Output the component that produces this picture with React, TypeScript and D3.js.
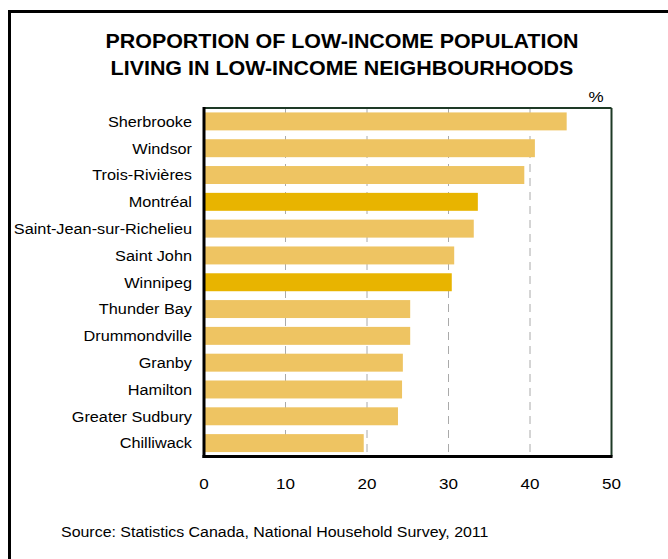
import React from "react";
import * as d3 from "d3";

const categories = [
  "Sherbrooke",
  "Windsor",
  "Trois-Rivières",
  "Montréal",
  "Saint-Jean-sur-Richelieu",
  "Saint John",
  "Winnipeg",
  "Thunder Bay",
  "Drummondville",
  "Granby",
  "Hamilton",
  "Greater Sudbury",
  "Chilliwack",
];
const values = [44.5, 40.6, 39.3, 33.6, 33.1, 30.7, 30.4, 25.3, 25.3, 24.4, 24.3, 23.8, 19.6];
const highlighted = ["Montréal", "Winnipeg"];
const xTicks = [0, 10, 20, 30, 40, 50];
const titleLines = ["PROPORTION OF LOW-INCOME POPULATION", "LIVING IN LOW-INCOME NEIGHBOURHOODS"];
const sourceText = "Source: Statistics Canada, National Household Survey, 2011";

const W = 668;
const H = 559;
const plot = { left: 204, right: 611.5, top: 108, bottom: 456.5 };
const font = "Liberation Sans, Arial, Helvetica, sans-serif";
const SX = 1.1; // horizontal stretch of the reference's text

function T({
  x,
  y,
  anchor = "start",
  size,
  bold = false,
  dy,
  children,
}: {
  x: number;
  y: number;
  anchor?: string;
  size: number;
  bold?: boolean;
  dy?: string;
  children: React.ReactNode;
}) {
  return (
    <text
      transform={`translate(${x},${y}) scale(${SX},1)`}
      textAnchor={anchor}
      fontSize={size}
      fontWeight={bold ? "bold" : "normal"}
      dy={dy}
      fill="#000"
    >
      {children}
    </text>
  );
}

export default function App() {
  const x = d3.scaleLinear().domain([0, 50]).range([plot.left, plot.right]);
  const y = d3
    .scaleBand<string>()
    .domain(categories)
    .range([plot.top, plot.bottom])
    .paddingInner(0.33)
    .paddingOuter(0.165);

  return (
    <svg
      width={W}
      height={H}
      style={{ position: "absolute", left: 0, top: 0, background: "#fff" }}
      fontFamily={font}
    >
      <rect x={0} y={0} width={W} height={H} fill="#fff" />
      {/* outer frame */}
      <rect x={9.5} y={11.5} width={W + 20} height={H + 20} fill="none" stroke="#000" strokeWidth={3} />
      {/* title */}
      {titleLines.map((t, i) => (
        <T key={i} x={342} y={47.5 + i * 27} anchor="middle" size={19.5} bold>
          {t}
        </T>
      ))}
      {/* gridlines */}
      {xTicks
        .filter((t) => t > 0 && t < 50)
        .map((t) => (
          <line
            key={t}
            x1={x(t)}
            x2={x(t)}
            y1={plot.top}
            y2={plot.bottom}
            stroke="#aaa"
            strokeWidth={1}
            strokeDasharray="8,6"
          />
        ))}
      {/* bars */}
      {categories.map((c, i) => (
        <rect
          key={c}
          x={x(0)}
          y={y(c)}
          width={x(values[i]) - x(0)}
          height={y.bandwidth()}
          fill={highlighted.includes(c) ? "#E8B400" : "#EEC462"}
        />
      ))}
      {/* frame of plot */}
      <line x1={plot.left} x2={plot.right} y1={plot.top} y2={plot.top} stroke="#1e3a26" strokeWidth={2} />
      <line x1={plot.right} x2={plot.right} y1={plot.top} y2={plot.bottom} stroke="#1e3a26" strokeWidth={2} />
      <line x1={plot.left} x2={plot.left} y1={plot.top - 1} y2={plot.bottom + 1.5} stroke="#000" strokeWidth={3} />
      <line x1={plot.left - 1.5} x2={plot.right + 1} y1={plot.bottom} y2={plot.bottom} stroke="#000" strokeWidth={3} />
      {/* category labels */}
      {categories.map((c) => (
        <T key={c} x={192} y={(y(c) ?? 0) + y.bandwidth() / 2} dy="0.36em" anchor="end" size={14.8}>
          {c}
        </T>
      ))}
      {/* x tick labels */}
      {xTicks.map((t) => (
        <T key={t} x={x(t)} y={488.5} anchor="middle" size={15.5}>
          {t}
        </T>
      ))}
      <T x={596} y={102} anchor="middle" size={15.5}>
        %
      </T>
      <T x={61} y={536.5} size={14.5}>
        {sourceText}
      </T>
    </svg>
  );
}
